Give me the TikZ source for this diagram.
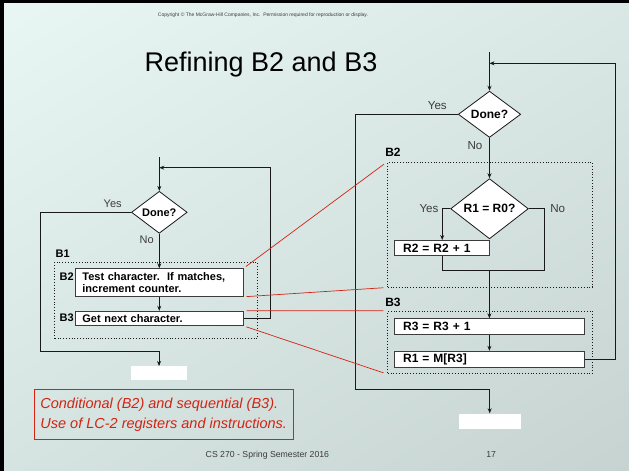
\documentclass[tikz,border=0pt]{standalone}
\usepackage{fontspec}
\setmainfont{Liberation Sans}
\usepackage{tikz}
\usetikzlibrary{shapes.geometric, arrows.meta, positioning, shadings}
\definecolor{mydark}{RGB}{25,25,25}
\definecolor{mygray}{RGB}{60,60,60}
\definecolor{myred}{RGB}{210,35,20}
\definecolor{bgtl}{RGB}{233,247,244}
\definecolor{bgtr}{RGB}{218,232,229}
\definecolor{bgbl}{RGB}{214,228,225}
\definecolor{bgbr}{RGB}{198,211,208}
\tikzset{
  flowbox/.style={rectangle, draw=mygray, fill=white, line width=0.8pt,
    inner xsep=7pt, inner ysep=0pt, align=left, anchor=north west,
    font=\fontsize{11}{11.7}\selectfont\bfseries},
  regbox/.style={flowbox, inner xsep=8.4pt,
    font=\fontsize{12}{12}\selectfont\bfseries},
  decision/.style={diamond, draw=mydark, fill=white, line width=0.8pt,
    inner sep=0pt, font=\fontsize{11}{11}\selectfont\bfseries},
  bigdecision/.style={decision, font=\fontsize{12}{12}\selectfont\bfseries},
  dotbox/.style={rectangle, draw=mydark, dotted, line width=0.8pt,
    anchor=north west, inner sep=0pt},
  endbox/.style={rectangle, fill=white, anchor=north west, inner sep=0pt},
  blabel/.style={font=\fontsize{11}{11}\selectfont\bfseries, inner sep=0pt},
  bigblabel/.style={font=\fontsize{12}{12}\selectfont\bfseries, inner sep=0pt},
  answer/.style={font=\fontsize{11}{11}\selectfont, text=mygray, inner sep=0pt},
  biganswer/.style={font=\fontsize{11.6}{11.6}\selectfont, text=mygray, inner sep=0pt},
  arrow/.style={-{Stealth[length=5pt, width=4pt]}, line width=0.7pt, color=mydark},
  line/.style={line width=0.7pt, color=mydark},
  redline/.style={line width=0.7pt, color=myred, shorten <=3pt, shorten >=4pt}
}
\begin{document}
\begin{tikzpicture}[x=1pt, y=-1pt]
  \useasboundingbox (0,0) rectangle (629,471);
  % slide background
  \shade[upper left=bgtl, upper right=bgtr, lower left=bgbl, lower right=bgbr]
    (0,0) rectangle (629,471);
  \fill[black] (0,0) rectangle (4,471);
  \fill[black] (0,0) rectangle (629,3);

  \node[font=\fontsize{5}{5}\selectfont, text=mygray] (copy) at (263,15)
    {Copyright © The McGraw-Hill Companies, Inc.\ \ Permission required for reproduction or display.};
  \node[font=\fontsize{27}{27}\selectfont, anchor=base] (title) at (261,71.5) {Refining B2 and B3};

  % left chart
  \node[decision, minimum width=55.7pt, minimum height=40.7pt] (done1) at (159.3,212.3) {Done?};
  \node[flowbox, text width=153.7pt, minimum height=27.7pt] (test1) at (75,268.3)
    {Test character.\ \ If matches,\\increment counter.};
  \node[flowbox, text width=153.7pt, minimum height=14.3pt, below=14pt of test1] (next1) {Get next character.};
  \node[dotbox, minimum width=202.4pt, minimum height=76.6pt] (blk1) at (54.3,261.7) {};
  \node[blabel] (lb1) at (62.7,253.3) {B1};
  \node[blabel] (lb2l) at (66.7,276.7) {B2};
  \node[blabel] (lb3l) at (66.7,317.3) {B3};
  \node[answer] (yes1) at (112.7,204) {Yes};
  \node[answer] (no1) at (146.7,240) {No};
  \node[endbox, minimum width=55.7pt, minimum height=13.3pt] (end1) at (131,366) {};

  \coordinate (in1) at (159.3,157);
  \coordinate (loop1) at (270.7,167.7);
  \coordinate (out1) at (40.7,351.7);
  \draw[arrow] (in1) -- (done1.north);
  \draw[arrow, line width=1.2pt] (done1.south) -- (done1.south |- test1.north);
  \draw[arrow] (test1.south) -- (next1.north);
  \draw[arrow] (next1.east) -| (loop1) -- (in1 |- loop1);
  \draw[arrow] (done1.west) -| (out1) -| (end1.north);

  % right chart
  \node[bigdecision, minimum width=62.4pt, minimum height=46.3pt] (done2) at (489.5,114.3) {Done?};
  \node[bigdecision, minimum width=77.7pt, minimum height=46.3pt, below=40.4pt of done2] (cmp) {R1 = R0?};
  \node[regbox, text width=78.2pt, minimum height=15.3pt] (inc2) at (394.3,240) {R2 = R2 + 1};
  \node[regbox, text width=172.6pt, minimum height=15.7pt] (inc3) at (394.3,318.3) {R3 = R3 + 1};
  \node[regbox, text width=172.6pt, minimum height=16pt, below=16pt of inc3] (load) {R1 = M[R3]};
  \node[dotbox, minimum width=204.4pt, minimum height=125pt] (blk2) at (387.3,161.7) {};
  \node[dotbox, minimum width=204.4pt, minimum height=62.6pt] (blk3) at (387.3,310.7) {};
  \node[bigblabel] (lb2r) at (393,152.7) {B2};
  \node[bigblabel] (lb3r) at (393,302.3) {B3};
  \node[biganswer] (yes2) at (437.3,106) {Yes};
  \node[biganswer] (no2) at (475,146) {No};
  \node[biganswer] (yes3) at (429,209) {Yes};
  \node[biganswer] (no3) at (557.7,209) {No};
  \node[endbox, minimum width=62.4pt, minimum height=15pt] (end2) at (458.3,413.3) {};

  \coordinate (in2) at (489.5,51.7);
  \coordinate (loop2) at (615.3,63.3);
  \coordinate (out2) at (355.3,389);
  \coordinate (join2) at (544,270.7);
  \draw[arrow] (in2) -- (done2.north);
  \draw[arrow, line width=1.2pt] (done2.south) -- (cmp.north);
  \draw[arrow] (cmp.west) -| (inc2.north);
  \draw[line] (cmp.east) -| (join2) -| (inc2.south);
  \draw[arrow] (inc3.north |- join2) -- (inc3.north);
  \draw[arrow] (inc3.south) -- (load.north);
  \draw[arrow] (load.east) -| (loop2) -- (in2 |- loop2);
  \draw[arrow] (done2.west) -| (out2) -| (end2.north);

  % zoom lines
  \draw[redline] (test1.north east) -- (blk2.north west);
  \draw[redline] (test1.south east) -- (blk2.south west);
  \draw[redline] (next1.north east) -- (blk3.north west);
  \draw[redline] (next1.south east) -- (blk3.south west);

  \node[draw=myred, line width=0.8pt, text=myred, font=\fontsize{14.5}{20}\selectfont\itshape,
    align=left, inner xsep=6pt, inner ysep=0pt, minimum width=258pt, minimum height=49.4pt,
    anchor=north west] (note) at (34,389.3)
    {Conditional (B2) and sequential (B3).\\Use of LC-2 registers and instructions.};
  \node[font=\fontsize{8.7}{8.7}\selectfont, text=mygray, anchor=base] (foot) at (267.4,457.2)
    {CS 270 - Spring Semester 2016};
  \node[font=\fontsize{8.7}{8.7}\selectfont, text=mygray, anchor=base] (page) at (491.2,457.2) {17};
\end{tikzpicture}
\end{document}
